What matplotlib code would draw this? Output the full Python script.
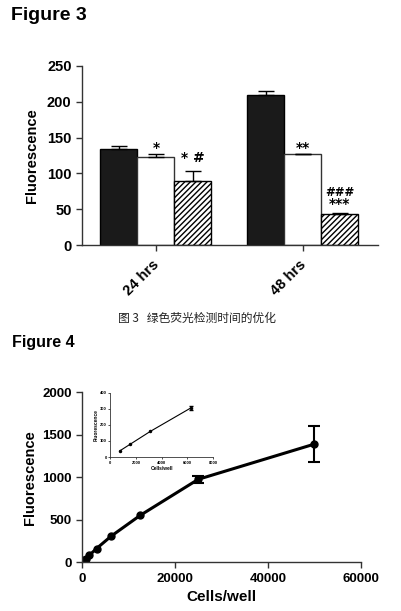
import matplotlib
matplotlib.use("Agg")
import matplotlib.pyplot as plt
import matplotlib.transforms as mtransforms
import numpy as np

# Figure 3 data
groups = ['24 hrs', '48 hrs']
black_vals = [134, 209]
black_err = [4, 6]
white_vals = [123, 127]
white_err = [4, 0.5]
hatch_vals = [89, 44]
hatch_err = [15, 1]
# significance marks: (text, bar index, group index, y)
marks = [('*', 1, 0, 135), ('* #', 2, 0, 121), ('**', 1, 1, 136),
         ('###', 2, 1, 74), ('***', 2, 1, 57)]

# Figure 4 data
cells = [0, 390, 781, 1562, 3125, 6250, 12500, 25000, 50000]
fluor = [2, 20, 40, 80, 160, 305, 550, 975, 1390]
fluor_err = [0, 0, 0, 0, 0, 0, 0, 40, 210]
inset_cells = [781, 1562, 3125, 6250]
inset_fluor = [40, 80, 160, 305]
inset_err = [0, 0, 0, 12]

plt.rcParams['font.family'] = ['Liberation Sans', 'DejaVu Sans']
plt.rcParams['font.weight'] = 'bold'

fig = plt.figure(figsize=(4.02, 6.11), dpi=100)
ec = '#333333'

def style(ax, lw=1.0, size=9, tl=4):
    for s in ['top', 'right']:
        ax.spines[s].set_visible(False)
    for s in ['left', 'bottom']:
        ax.spines[s].set_color(ec)
        ax.spines[s].set_linewidth(lw)
    ax.tick_params(direction='out', length=tl, width=lw, color=ec, labelsize=size)
    for t in ax.get_xticklabels() + ax.get_yticklabels():
        t.set_fontweight('bold')

# ---- Figure 3 ----
fig.text(0.028, 0.988, 'Figure 3', fontsize=14, fontweight='bold', va='top')
ax1 = fig.add_axes([0.204, 0.599, 0.736, 0.293])
x = np.arange(len(groups))
w = 0.252
kw = dict(width=w, linewidth=1.0, capsize=6, error_kw=dict(elinewidth=1.0, capthick=1.0, ecolor='black'))
ax1.bar(x - w, black_vals, yerr=[[0] * 2, black_err], color='#1a1a1a', edgecolor='black', **kw)
ax1.bar(x, white_vals, yerr=[[0] * 2, white_err], color='white', edgecolor=ec, **kw)
ax1.bar(x + w, hatch_vals, yerr=[[0] * 2, hatch_err], color='white', edgecolor='black', hatch='//////', **kw)
for txt, bi, gi, yv in marks:
    fs = 8.5 if txt == '###' else 10
    ax1.text(x[gi] + (bi - 1) * w, yv, txt, ha='center', va='center', fontsize=fs,
             fontweight='bold', family='DejaVu Sans')
ax1.set_xlim(-0.503, 1.51)
ax1.set_ylim(0, 250)
ax1.set_yticks([0, 50, 100, 150, 200, 250])
ax1.set_xticks(x)
ax1.set_xticklabels(groups, rotation=45, ha='right', rotation_mode='anchor')
ax1.set_ylabel('Fluorescence', fontsize=10.5, fontweight='bold', labelpad=6)
style(ax1, size=10.5)
ax1.tick_params(axis='x', pad=5)
off = mtransforms.ScaledTranslation(-4 / 100, 0, fig.dpi_scale_trans)
for t in ax1.get_xticklabels():
    t.set_transform(t.get_transform() + off)

fig.text(0.49, 0.479, '图 3   绿色荧光检测时间的优化', fontsize=8.5, ha='center', va='center',
         family=['Noto Sans CJK SC', 'DejaVu Sans'], fontweight='normal', color='#222222')

# ---- Figure 4 ----
fig.text(0.030, 0.452, 'Figure 4', fontsize=11.5, fontweight='bold', va='top')
ax2 = fig.add_axes([0.204, 0.080, 0.694, 0.278])
ax2.plot(cells, fluor, color='black', lw=2.2, marker='o', ms=5)
ax2.errorbar(cells[-2:], fluor[-2:], yerr=fluor_err[-2:], fmt='none', ecolor='black',
             capsize=4.5, elinewidth=1.5, capthick=1.5)
ax2.set_xlim(0, 60000)
ax2.set_ylim(0, 2000)
ax2.set_xticks([0, 20000, 40000, 60000])
ax2.set_yticks([0, 500, 1000, 1500, 2000])
ax2.set_xlabel('Cells/well', fontsize=11, fontweight='bold')
ax2.set_ylabel('Fluorescence', fontsize=10.5, fontweight='bold')
style(ax2, size=9.5)

ax3 = fig.add_axes([0.274, 0.252, 0.256, 0.105])
ax3.plot(inset_cells, inset_fluor, color='black', lw=0.8, marker='o', ms=1.5)
ax3.errorbar(inset_cells[-1:], inset_fluor[-1:], yerr=inset_err[-1:], fmt='none', ecolor='black',
             capsize=1.5, elinewidth=0.6)
ax3.set_xlim(0, 8000)
ax3.set_ylim(0, 400)
ax3.set_xticks([0, 2000, 4000, 6000, 8000])
ax3.set_yticks([0, 100, 200, 300, 400])
ax3.set_xlabel('Cells/well', fontsize=3.5, fontweight='bold', labelpad=1)
ax3.set_ylabel('Fluorescence', fontsize=3.5, fontweight='bold', labelpad=1)
style(ax3, lw=0.6, size=3, tl=1.5)
ax3.tick_params(pad=1)

fig.savefig('out.png', dpi=100)
